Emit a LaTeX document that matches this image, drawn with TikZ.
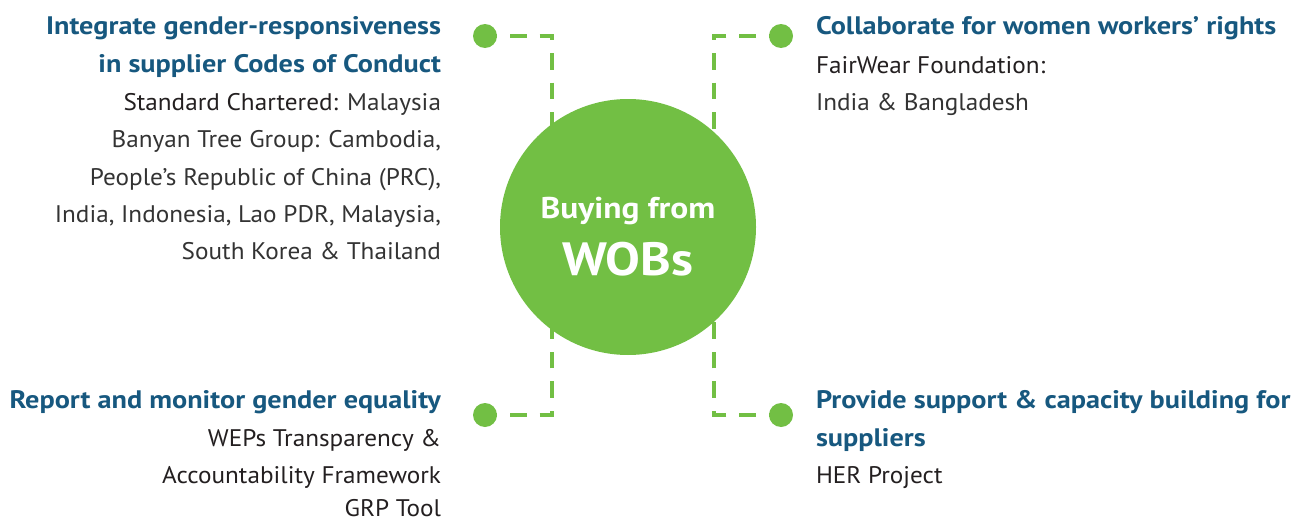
\documentclass[tikz,border=0pt]{standalone}
\usepackage{fontspec}
\setmainfont{PT Sans}[FakeStretch=1.05]
\newfontfamily\headfont{PT Sans}[FakeStretch=1.115]
\usetikzlibrary{backgrounds}
\definecolor{wgreen}{HTML}{72BF44}
\definecolor{headblue}{HTML}{17587F}
\definecolor{textdark}{HTML}{231F20}
\definecolor{textlight}{HTML}{333333}
\begin{document}
\begin{tikzpicture}[x=0.75pt,y=-0.75pt,
  head/.style={font=\fontsize{19}{19}\headfont\bfseries, text=headblue, inner sep=0pt, outer sep=0pt},
  body/.style={font=\fontsize{18}{18}\selectfont, text=textdark, inner sep=0pt, outer sep=0pt},
  lite/.style={font=\fontsize{18}{18}\selectfont, text=textlight, inner sep=0pt, outer sep=0pt},
  conn/.style={draw=wgreen, line width=2.3pt, dash pattern=on 12.4pt off 9.75pt, dash phase=3.4pt},
  dotnode/.style={circle, fill=wgreen, minimum size=18pt, inner sep=0pt},
  hubnode/.style={circle, fill=wgreen, minimum size=192pt, inner sep=0pt},
  hubtext/.style={text=white, inner sep=0pt, outer sep=0pt}]
\useasboundingbox (0,0) rectangle (1297,521);

% hub
\node[hubnode] (hub) at (628,227) {};
\node[hubtext, font=\fontsize{22.5}{22.5}\headfont\bfseries, anchor=base] (hubA) at (628,218) {Buying from};
\node[hubtext, font=\fontsize{35}{35}\headfont\bfseries, anchor=base] (hubB) at (628,275) {WOBs};

% dots
\node[dotnode] (dTL) at (485,36) {};
\node[dotnode] (dBL) at (485,415) {};
\node[dotnode] (dTR) at (781,36) {};
\node[dotnode] (dBR) at (781,415) {};

% corners
\coordinate (cTL) at (552,36);
\coordinate (cBL) at (552,415);
\coordinate (cTR) at (714,36);
\coordinate (cBR) at (714,415);

\begin{pgfonlayer}{background}
\draw[conn] (dTL.center) -- (cTL) -- (cTL |- hub.center);
\draw[conn] (dBL.center) -- (cBL) -- (cBL |- hub.center);
\draw[conn] (dTR.center) -- (cTR) -- (cTR |- hub.center);
\draw[conn] (dBR.center) -- (cBR) -- (cBR |- hub.center);
\end{pgfonlayer}

% top-left block
\node[head, anchor=base east] (tl1) at (441,35) {Integrate gender-responsiveness};
\node[head, anchor=base east] (tl2) at (441,72) {in supplier Codes of Conduct};
\node[lite, anchor=base east] (tl3) at (441,110) {\textcolor{textdark}{Standard Chartered:} Malaysia};
\node[lite, anchor=base east] (tl4) at (441,147) {Banyan Tree Group: Cambodia,};
\node[lite, anchor=base east] (tl5) at (441,185) {People’s Republic of China (PRC),};
\node[lite, anchor=base east] (tl6) at (441,222) {India, Indonesia, Lao PDR, Malaysia,};
\node[lite, anchor=base east] (tl7) at (441,259) {South Korea \& Thailand};

% top-right block
\node[head, anchor=base west] (tr1) at (816,35) {Collaborate for women workers’ rights};
\node[body, anchor=base west] (tr2) at (816,73) {FairWear Foundation:};
\node[lite, anchor=base west] (tr3) at (816,110) {India \& Bangladesh};

% bottom-left block
\node[head, anchor=base east] (bl1) at (441,408) {Report and monitor gender equality};
\node[body, anchor=base east] (bl2) at (441,446) {WEPs Transparency \&};
\node[body, anchor=base east] (bl3) at (441,483) {Accountability Framework};
\node[body, anchor=base east] (bl4) at (441,516) {GRP Tool};

% bottom-right block
\node[head, anchor=base west] (br1) at (816,408) {Provide support \& capacity building for};
\node[head, anchor=base west] (br2) at (816,446) {suppliers};
\node[body, anchor=base west] (br3) at (816,483) {HER Project};
\end{tikzpicture}
\end{document}
